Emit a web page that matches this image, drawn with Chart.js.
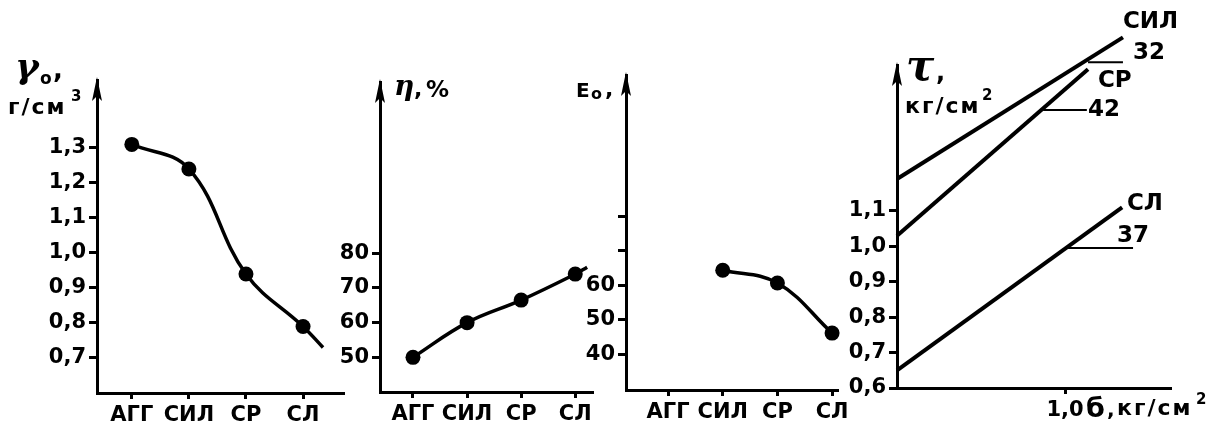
<!DOCTYPE html>
<html>
<head>
<meta charset="utf-8">
<script src="https://cdn.jsdelivr.net/npm/chart.js@4.4.1/dist/chart.umd.min.js"></script>
<style>
  body { margin: 0; background: #fff; }
  #wrap { position: relative; width: 1217px; height: 441px; }
  canvas { position: absolute; left: 0; top: 0; }
</style>
</head>
<body>
<div id="wrap">
  <canvas id="c1" width="1217" height="441"></canvas>
  <canvas id="c2" width="1217" height="441"></canvas>
  <canvas id="c3" width="1217" height="441"></canvas>
  <canvas id="c4" width="1217" height="441"></canvas>
</div>
<script>
// soil types along the x axis of the first three panels
const categories = ["АГГ", "СИЛ", "СР", "СЛ"];

// panel 1: unit weight, g/cm3
const densityValues = [1.31, 1.24, 0.94, 0.79];
const densityTail = [4.35, 0.73];
const densityTicks = [0.7, 0.8, 0.9, 1.0, 1.1, 1.2, 1.3];

// panel 2: porosity, %
const porosityValues = [50, 60, 66.5, 74];
const porosityTail = [4.22, 76];
const porosityTicks = [50, 60, 70, 80];

// panel 3: modulus E0 (no value for АГГ)
const modulusValues = [null, 64.3, 60.6, 46.1];
const modulusTicks = [40, 50, 60, 70, 80];
const modulusLabelled = [40, 50, 60];

// panel 4: shear strength vs normal stress
const shearTicks = [0.6, 0.7, 0.8, 0.9, 1.0, 1.1];
const stressTicks = [1.0];
const silLine = [[0, 1.19], [1.345, 1.59]];
const srLine = [[0, 1.03], [1.137, 1.50]];
const slLine = [[0, 0.65], [1.34, 1.11]];
const angleNames = ["32", "42", "37"];
const angleMarks = [[1.137, 1.345, 1.52], [0.87, 1.13, 1.385], [1.01, 1.405, 0.995]];

const fontFamily = "'DejaVu Sans', sans-serif";
const tickFont = { family: "DejaVu Sans", size: 21, weight: "bold" };
const catFont = { family: "DejaVu Sans", size: 21, weight: "bold" };

function comma(v) { return v.toFixed(1).replace(".", ","); }

function toPoints(pairs) { return pairs.map(p => ({ x: p[0], y: p[1] })); }

function catPoints(values, tail) {
  const pts = [];
  values.forEach((v, i) => { if (v !== null) pts.push({ x: i + 1, y: v }); });
  if (tail) pts.push({ x: tail[0], y: tail[1] });
  return pts;
}

const arrowPlugin = {
  id: "arrowUp",
  afterDraw(chart) {
    const { ctx, chartArea } = chart;
    const x = chartArea.left;
    const y = chartArea.top - 3;
    ctx.save();
    ctx.fillStyle = "#000";
    ctx.beginPath();
    ctx.moveTo(x, y);
    ctx.lineTo(x + 5, y + 24);
    ctx.lineTo(x, y + 19);
    ctx.lineTo(x - 5, y + 24);
    ctx.closePath();
    ctx.fill();
    ctx.restore();
  }
};

function notes(items) {
  return {
    id: "notes",
    afterDraw(chart) {
      const { ctx, scales } = chart;
      items.forEach(n => {
        let px = n.x, py = n.y;
        if (n.data) {
          px = scales.x.getPixelForValue(n.x);
          py = scales.y.getPixelForValue(n.y);
        }
        ctx.save();
        ctx.font = n.font;
        ctx.letterSpacing = n.spacing || "0px";
        ctx.fillStyle = "#000";
        ctx.textAlign = "left";
        ctx.textBaseline = n.data ? "middle" : "alphabetic";
        ctx.fillText(n.text, px, py);
        ctx.restore();
      });
    }
  };
}

function yScale(min, max, ticks, fmt) {
  return {
    type: "linear", min: min, max: max,
    afterBuildTicks: s => { s.ticks = ticks.map(v => ({ value: v })); },
    afterFit: s => { s.width = 70; },
    border: { display: true, color: "#000", width: 3 },
    grid: { drawOnChartArea: false, color: "#000", lineWidth: 3, tickLength: 8 },
    ticks: { color: "#000", font: tickFont, padding: 3, callback: fmt }
  };
}

function xScale(min, max, ticks, fmt, font) {
  return {
    type: "linear", min: min, max: max,
    afterBuildTicks: s => { s.ticks = ticks.map(v => ({ value: v })); },
    afterFit: s => { s.height = 40; },
    border: { display: true, color: "#000", width: 3 },
    grid: { drawOnChartArea: false, color: "#000", lineWidth: 3, tickLength: 6 },
    ticks: { color: "#000", font: font, padding: 4, maxRotation: 0, autoSkip: false, callback: fmt }
  };
}

function curve(points, dots) {
  return {
    data: points,
    borderColor: "#000",
    borderWidth: 3.5,
    tension: 0.4,
    pointRadius: points.map((p, i) => i < dots ? 7.5 : 0),
    pointBackgroundColor: "#000",
    pointBorderWidth: 0,
    clip: false
  };
}

function straight(points, width) {
  return {
    data: points,
    borderColor: "#000",
    borderWidth: width,
    pointRadius: 0,
    tension: 0,
    clip: false
  };
}

function baseOptions(padding, scales) {
  return {
    responsive: false,
    animation: false,
    events: [],
    layout: { padding: padding, autoPadding: false },
    plugins: { legend: { display: false }, tooltip: { enabled: false } },
    scales: scales
  };
}

const catLabel = v => categories[v - 1];
const catSteps = categories.map((c, i) => i + 1);

// panel 1
new Chart(document.getElementById("c1"), {
  type: "line",
  data: { datasets: [curve(catPoints(densityValues, densityTail), 4)] },
  options: baseOptions({ left: 27, top: 80, right: 874, bottom: 8 }, {
    x: xScale(0.39, 4.70, catSteps, catLabel, catFont),
    y: yScale(0.6, 1.494, densityTicks, comma)
  }),
  plugins: [arrowPlugin, notes([
    { text: "γ", x: 15, y: 78, font: "italic bold 36px 'DejaVu Serif'" },
    { text: "о", x: 40, y: 84, font: "bold 17px " + fontFamily },
    { text: ",", x: 53, y: 78, font: "bold 26px " + fontFamily },
    { text: "г/см", x: 8, y: 114, font: "bold 22px " + fontFamily, spacing: "2px" },
    { text: "3", x: 71, y: 101, font: "bold 15px " + fontFamily }
  ])]
});

// panel 2
new Chart(document.getElementById("c2"), {
  type: "line",
  data: { datasets: [curve(catPoints(porosityValues, porosityTail), 4)] },
  options: baseOptions({ left: 310, top: 82, right: 625, bottom: 9 }, {
    x: xScale(0.39, 4.31, catSteps, catLabel, catFont),
    y: yScale(40, 129.4, porosityTicks, v => String(v))
  }),
  plugins: [arrowPlugin, notes([
    { text: "η", x: 394, y: 95, font: "italic bold 28px 'DejaVu Serif'" },
    { text: ",", x: 414, y: 96, font: "bold 22px " + fontFamily },
    { text: "%", x: 426, y: 97, font: "bold 23px " + fontFamily }
  ])]
});

// panel 3
new Chart(document.getElementById("c3"), {
  type: "line",
  data: { datasets: [curve(catPoints(modulusValues, null), 3)] },
  options: baseOptions({ left: 556, top: 75, right: 380, bottom: 11 }, {
    x: xScale(0.23, 4.09, catSteps, catLabel, catFont),
    y: yScale(29.6, 120.9, modulusTicks, v => modulusLabelled.includes(v) ? String(v) : "")
  }),
  plugins: [arrowPlugin, notes([
    { text: "E", x: 576, y: 97, font: "bold 20px " + fontFamily },
    { text: "о", x: 591, y: 99, font: "bold 16px " + fontFamily },
    { text: ",", x: 605, y: 96, font: "bold 22px " + fontFamily }
  ])]
});

// panel 4
const angleSets = angleMarks.map(m => straight([{ x: m[0], y: m[2] }, { x: m[1], y: m[2] }], 2));
new Chart(document.getElementById("c4"), {
  type: "line",
  data: { datasets: [
    straight(toPoints(silLine), 4),
    straight(toPoints(srLine), 4),
    straight(toPoints(slLine), 4)
  ].concat(angleSets) },
  options: baseOptions({ left: 827, top: 65, right: 47, bottom: 13 }, {
    x: xScale(0, 1.625, stressTicks, comma, tickFont),
    y: yScale(0.6, 1.512, shearTicks, comma)
  }),
  plugins: [arrowPlugin, notes([
    { text: "τ", x: 906, y: 80, font: "italic bold 42px 'DejaVu Serif'" },
    { text: ",", x: 936, y: 80, font: "bold 24px " + fontFamily },
    { text: "кг/см", x: 905, y: 113, font: "bold 22px " + fontFamily, spacing: "2px" },
    { text: "2", x: 982, y: 100, font: "bold 15px " + fontFamily },
    { text: "СИЛ", data: true, x: 1.345, y: 1.634, font: "bold 23px " + fontFamily },
    { text: angleNames[0], data: true, x: 1.405, y: 1.546, font: "bold 23px " + fontFamily },
    { text: "СР", data: true, x: 1.196, y: 1.467, font: "bold 23px " + fontFamily },
    { text: angleNames[1], data: true, x: 1.137, y: 1.385, font: "bold 23px " + fontFamily },
    { text: "СЛ", data: true, x: 1.369, y: 1.12, font: "bold 23px " + fontFamily },
    { text: angleNames[2], data: true, x: 1.31, y: 1.03, font: "bold 23px " + fontFamily },
    { text: "б", x: 1086, y: 417, font: "bold 27px " + fontFamily },
    { text: ",", x: 1107, y: 416, font: "bold 20px " + fontFamily },
    { text: "кг/см", x: 1117, y: 415, font: "bold 22px " + fontFamily, spacing: "2px" },
    { text: "2", x: 1196, y: 404, font: "bold 15px " + fontFamily }
  ])]
});
</script>
</body>
</html>
